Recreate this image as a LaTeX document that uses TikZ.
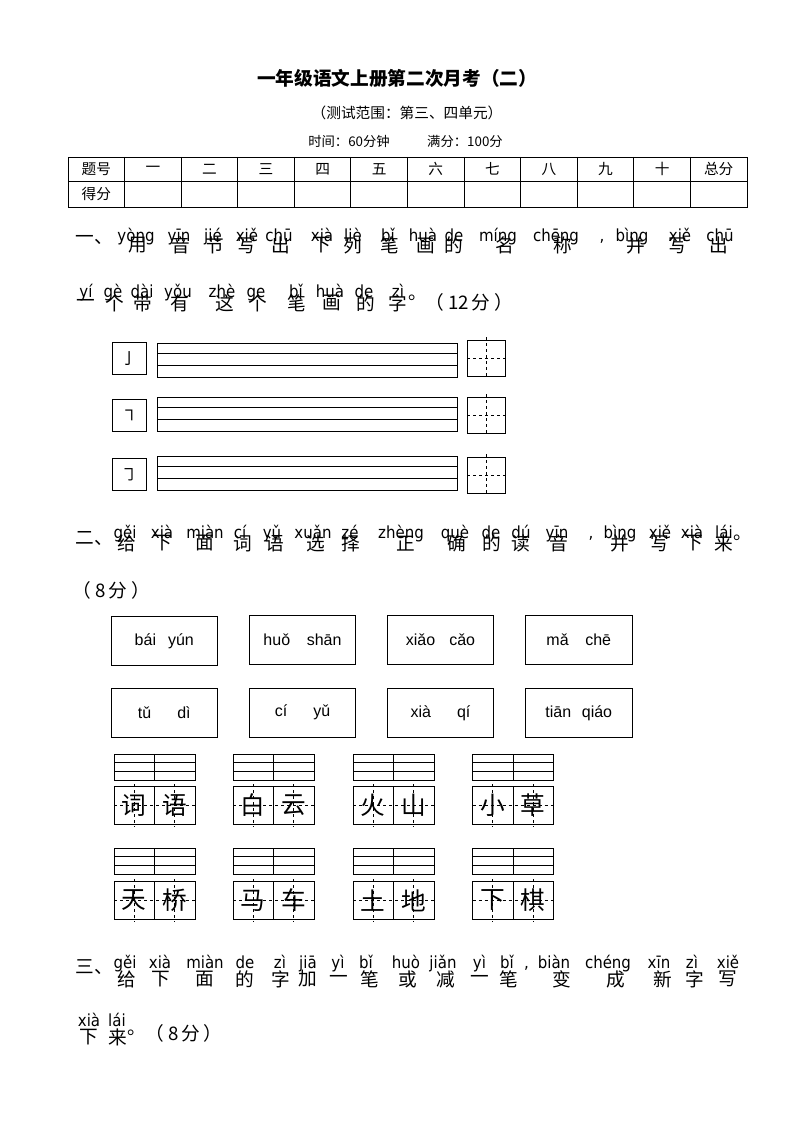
\documentclass[tikz,border=0pt]{standalone}
\usepackage{fontspec}
\setmainfont{Noto Sans CJK SC}
\newfontfamily\pyfont[FakeStretch=0.9]{DejaVu Sans}
\newfontfamily\boxfont{Liberation Sans}

\begin{document}
\begin{tikzpicture}[x=0.75pt,y=-0.75pt,line width=0.7pt,
        py/.style={font=\pyfont\fontsize{12.5}{14}\selectfont,inner sep=0pt,anchor=base},
        hz/.style={font=\fontsize{14}{16}\selectfont,inner sep=0pt},
        tb/.style={font=\fontsize{11}{13}\selectfont,inner sep=0pt},
        cell/.style={font=\fontsize{18.5}{20}\selectfont,inner sep=0pt},
        pybox/.style={draw,font=\boxfont\fontsize{12}{14}\selectfont,
            minimum width=79.8pt,minimum height=36.8pt,inner sep=0pt},
        strokebox/.style={draw,font=\fontsize{12}{14}\selectfont,
            minimum width=25.5pt,minimum height=24.5pt,inner sep=0pt},
        dashline/.style={dash pattern=on 2.5pt off 2pt}]
\useasboundingbox (0,0) rectangle (794,1123);

% head
\node[font=\bfseries\fontsize{14}{16}\selectfont,inner sep=0pt] (title) at (397,78) {一年级语文上册第二次月考（二）};
\node[font=\fontsize{11}{13}\selectfont,inner sep=0pt] (range) at (407,113) {（测试范围：第三、四单元）};
\node[font=\fontsize{10}{12}\selectfont,inner sep=0pt] (time) at (349,141) {时间：60分钟};
\node[font=\fontsize{10}{12}\selectfont,inner sep=0pt] (full) at (465,141) {满分：100分};

% score table
\draw (68,157) rectangle (747,207);
\draw (68,181) -- (747,181);
\foreach \i in {1,...,11}
    \draw ({68+56.58*\i},157) -- ({68+56.58*\i},207);
\foreach \t [count=\i] in {题号,一,二,三,四,五,六,七,八,九,十,总分}
    \node[tb] (th\i) at ({68+56.58*(\i-0.5)},169) {\t};
\node[tb] (td) at ({68+56.58*0.5},194) {得分};

% part one
\node[hz] (no1) at (94,240) {一、};
\foreach \p/\u/\c/\x [count=\i] in {yòng/136/用/138,yīn/179/音/181,jié/213/节/215,
        xiě/247/写/247,chū/279/出/281,xià/322/下/322,liè/353/列/353,
        bǐ/388/笔/390,huà/423/画/426,de/454/的/454,míng/498/名/505,
        chēng/556/称/563,bìng/632/并/636,xiě/680/写/678,chū/720/出/719} {
    \node[py] (pa\i) at (\u,241) {\p};
    \node[hz] (ca\i) at (\x,245.5) {\c};
}
\node[py] (cma1) at (602,241) {,};
\foreach \p/\u/\c/\x [count=\i] in {yí/86/一/86,gè/113/个/115,dài/142/带/143,
        yǒu/178/有/180,zhè/222/这/225,ge/256/个/258,bǐ/296/笔/297,
        huà/330/画/332,de/364/的/366,zì/398/字/398} {
    \node[py] (pb\i) at (\u,297) {\p};
    \node[hz] (cb\i) at (\x,303) {\c};
}
\node[hz] (dot1) at (418,298) {。};
\node[hz] (sc1) at (469.5,302.5) {（\hspace{3pt}12\hspace{2pt}分\hspace{3pt}）};

\foreach \a/\b/\g/\s [count=\i] in {342/343/340/亅,399/397/397/㇕,458/456/457/㇆} {
    \node[strokebox] (k\i) at (129,\a+16.5) {\s};
    \draw (157,\b) rectangle (457,\b+34);
    \draw (157,\b+10.5) -- (457,\b+10.5);
    \draw (157,\b+22) -- (457,\b+22);
    \draw (467,\g) rectangle (505.5,\g+36.5);
    \draw[dashline] (486,\g-3) -- (486,\g+36.5);
    \draw[dashline] (467,\g+18) -- (505.5,\g+18);
}

% part two
\node[hz] (no2) at (94,539) {二、};
\foreach \p/\u/\c/\x [count=\i] in {gěi/125/给/127,xià/162/下/163,miàn/205/面/205,
        cí/240/词/243,yǔ/272/语/275,xuǎn/313/选/316,zé/350/择/351,
        zhèng/401/正/406,què/455/确/457,de/491/的/492,dú/521/读/521,
        yīn/557/音/559,bìng/620/并/620,xiě/660/写/660,xià/692/下/694,lái/724/来/724} {
    \node[py] (pc\i) at (\u,538.3) {\p};
    \node[hz] (cc\i) at (\x,543.5) {\c};
}
\node[py] (cma2) at (591,538.3) {,};
\node[hz] (dot2) at (743,538) {。};
\node[hz] (sc2) at (111.5,590) {（\hspace{3pt}8\hspace{2pt}分\hspace{3pt}）};

\node[pybox] (w1) at (164.3,641.2) {bái\hspace{9pt}yún};
\node[pybox] (w2) at (302.5,639.5) {huǒ\hspace{12.5pt}shān};
\node[pybox] (w3) at (440.5,640) {xiǎo\hspace{10.5pt}cǎo};
\node[pybox] (w4) at (578.8,640) {mǎ\hspace{12.5pt}chē};
\node[pybox] (w5) at (164.3,713) {tǔ\hspace{19.5pt}dì};
\node[pybox] (w6) at (302.5,712.5) {cí\hspace{19.5pt}yǔ};
\node[pybox] (w7) at (440.5,713) {xià\hspace{19.5pt}qí};
\node[pybox] (w8) at (578.8,713) {tiān\hspace{8pt}qiáo};

\foreach \x/\ya/\yb/\l/\r [count=\i] in {114/754/786/词/语,233/754/786/白/云,
        353/754/786/火/山,472.5/754/786/小/草,114/848/881/天/桥,233/848/881/马/车,
        353/848/881/土/地,472.5/848/881/下/棋} {
    \draw (\x,\ya) rectangle (\x+81,\ya+26);
    \draw (\x,\ya+8.5) -- (\x+81,\ya+8.5);
    \draw (\x,\ya+17) -- (\x+81,\ya+17);
    \draw (\x+40.5,\ya) -- (\x+40.5,\ya+26);
    \draw (\x,\yb) rectangle (\x+81,\yb+38.5);
    \draw (\x+40.5,\yb) -- (\x+40.5,\yb+38.5);
    \draw[dashline] (\x,\yb+19.25) -- (\x+81,\yb+19.25);
    \draw[dashline] (\x+20.25,\yb-2) -- (\x+20.25,\yb+40.5);
    \draw[dashline] (\x+60.75,\yb-2) -- (\x+60.75,\yb+40.5);
    \node[cell] (zl\i) at (\x+20.25,\yb+19.5) {\l};
    \node[cell] (zr\i) at (\x+60.75,\yb+19.5) {\r};
}

% part three
\node[hz] (no3) at (94,967) {三、};
\foreach \p/\u/\c/\x [count=\i] in {gěi/125/给/127,xià/160/下/161,miàn/205/面/205,
        de/245/的/245,zì/280/字/281,jiā/308/加/308,yì/338/一/338.5,
        bǐ/366/笔/370,huò/406/或/408,jiǎn/443/减/446,yì/479.5/一/479.5,
        bǐ/507/笔/509,biàn/554/变/562,chéng/608/成/616,xīn/659/新/663,
        zì/692/字/694.5,xiě/728/写/728} {
    \node[py] (pd\i) at (\u,968.3) {\p};
    \node[hz] (cd\i) at (\x,979) {\c};
}
\node[py] (cma3) at (526.5,968.3) {,};
\node[py] (pe1) at (89,1026.7) {xià};
\node[hz] (ce1) at (89,1037.5) {下};
\node[py] (pe2) at (117,1026.7) {lái};
\node[hz] (ce2) at (118,1037.5) {来};
\node[hz] (dot3) at (137,1033) {。};
\node[hz] (sc3) at (184,1033.5) {（\hspace{3pt}8\hspace{2pt}分\hspace{3pt}）};
\end{tikzpicture}
\end{document}
